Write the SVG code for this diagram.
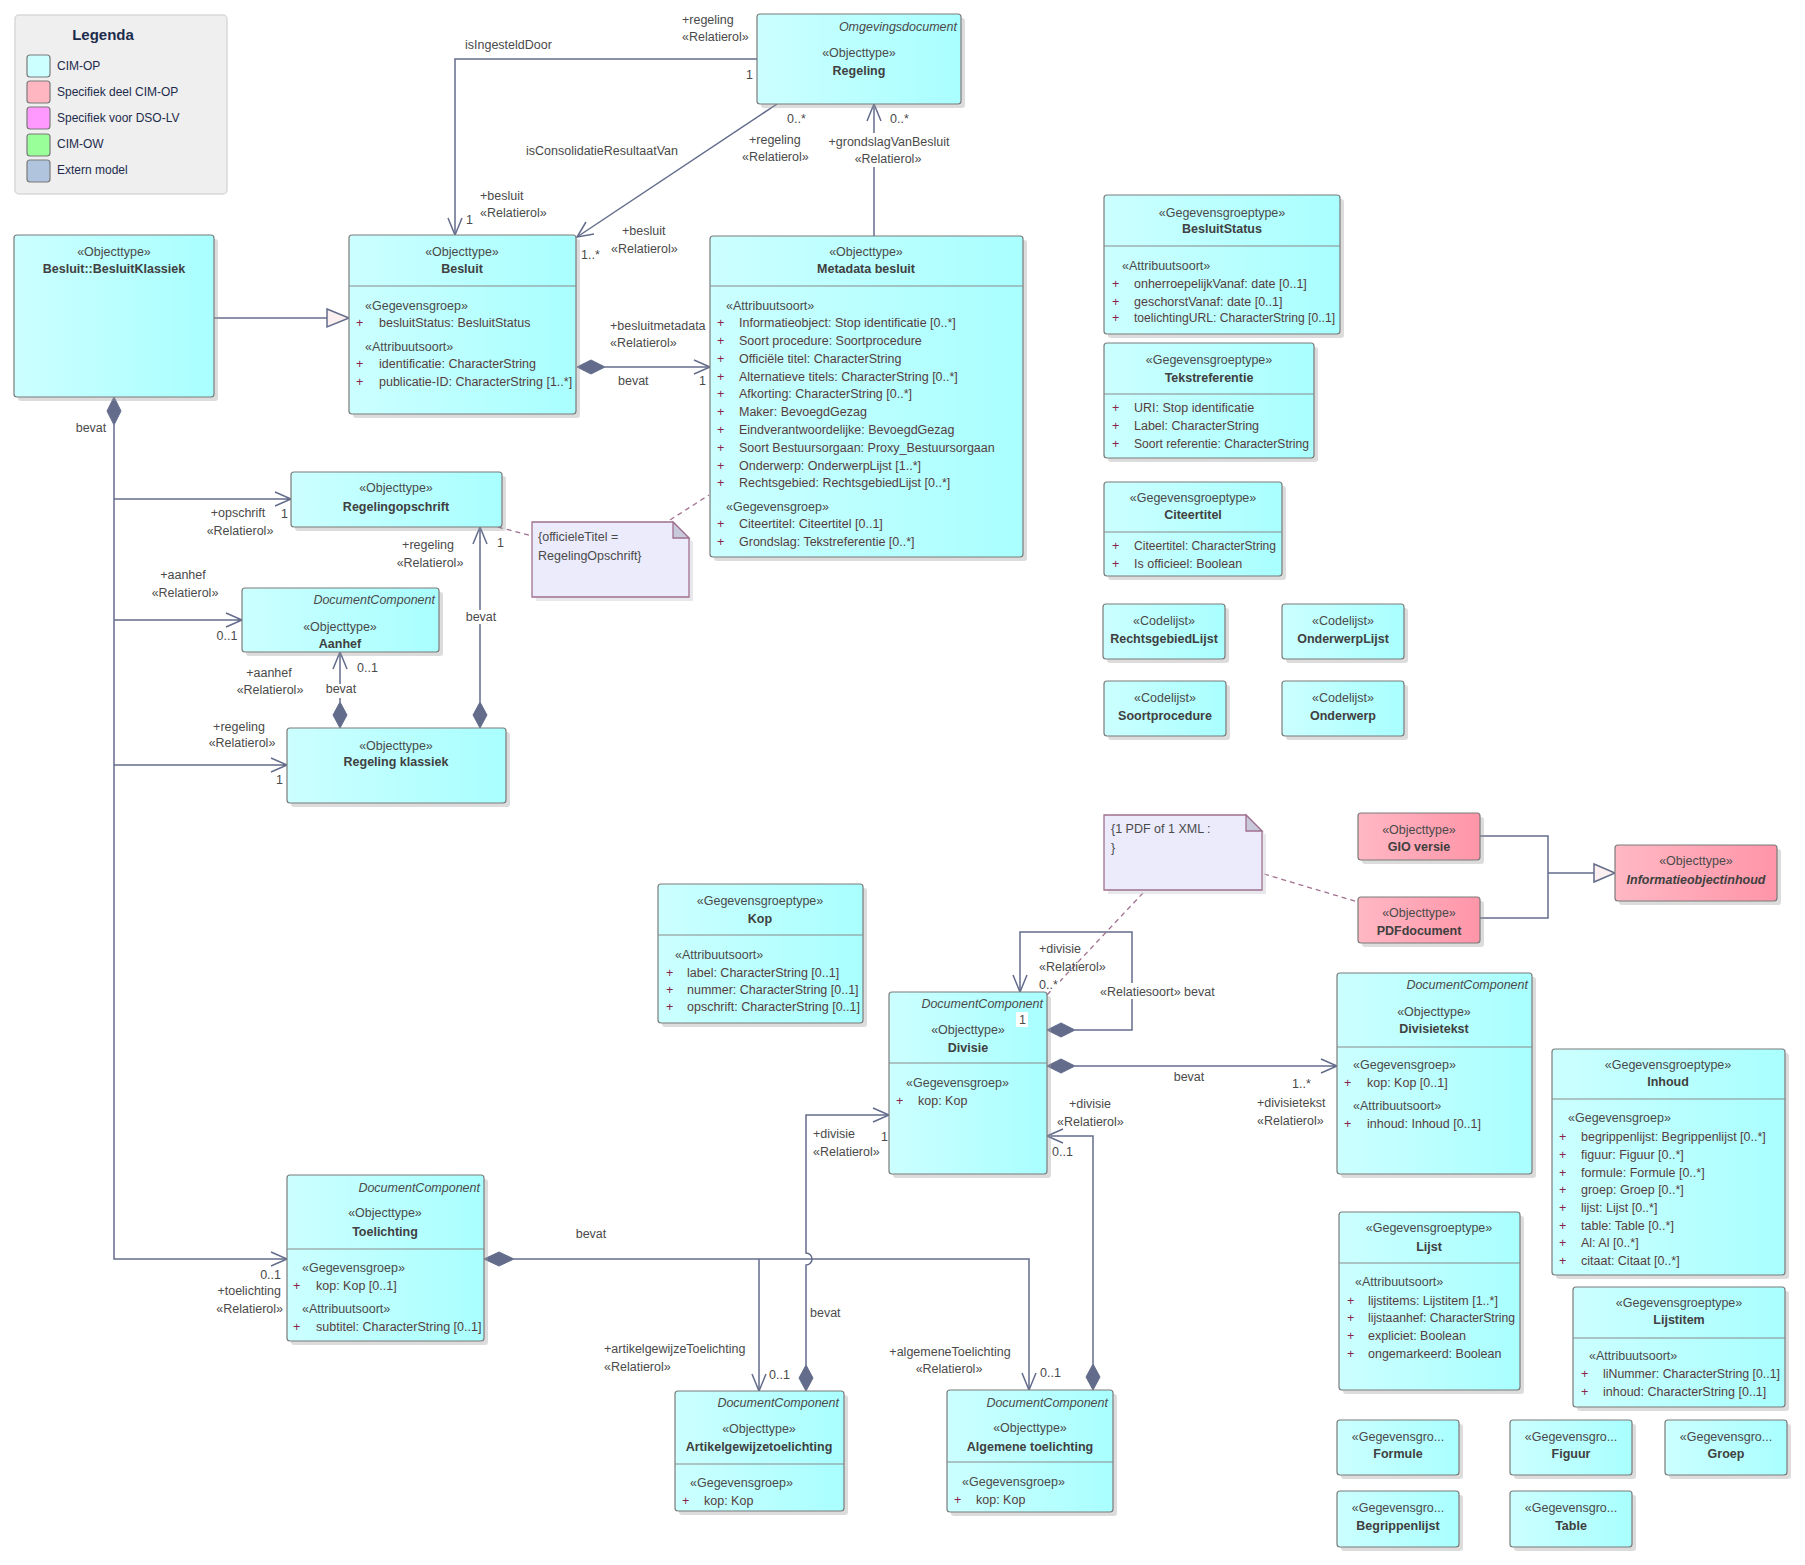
<svg xmlns="http://www.w3.org/2000/svg" width="1805" height="1565" viewBox="0 0 1805 1565">
<defs>
<linearGradient id="cy" x1="0" y1="0" x2="1" y2="0"><stop offset="0" stop-color="#ccffff"/><stop offset="1" stop-color="#a9ffff"/></linearGradient>
<linearGradient id="pk" x1="0" y1="0" x2="1" y2="0"><stop offset="0" stop-color="#ffb8c4"/><stop offset="1" stop-color="#ff95a8"/></linearGradient>
<style>
text{font-family:"Liberation Sans",Arial,sans-serif;font-size:12.5px;fill:#4a4a4a}
.n{fill:url(#cy);stroke:#7b7b7b;stroke-width:1.2}
.pn{fill:url(#pk);stroke:#7b7b7b;stroke-width:1.2}
.sh{fill:#9a9a9a;opacity:0.35}
.sep{stroke:#8a8a8a;stroke-width:1.2}
.m{text-anchor:middle}
.e{text-anchor:end}
.b{font-weight:bold;fill:#404040}
.i{font-style:italic}
.pl{fill:#8b2346}
.at{fill:#553d3d}
.c{stroke:#636c8b;stroke-width:1.5;fill:none}
.d{fill:#636c8b;stroke:#636c8b;stroke-width:1}
.g{fill:#fbefef;stroke:#636c8b;stroke-width:1.5}
.ds{stroke:#a0708e;stroke-width:1.3;stroke-dasharray:5,4;fill:none}
.note{fill:#ebebfc;stroke:#a0708e;stroke-width:1.3}
.fold{fill:#c9c9dc;stroke:#a0708e;stroke-width:1.3}
.wb{fill:#ffffff}
.lg{font-size:12px;fill:#1d2c4c}
.sw{stroke:#7a7a7a;stroke-width:1.2}
</style>
</defs>
<rect width="1805" height="1565" fill="#ffffff"/>

<g id="legenda">
<rect x="15" y="15" width="212" height="179" rx="4" fill="#efefef" stroke="#d9d9d9" stroke-width="1.5"/>
<text x="103" y="40" class="m" style="font-weight:bold;font-size:15px;fill:#1d2c4c">Legenda</text>
<rect x="27" y="55" width="23" height="22" rx="3" fill="#ccffff" class="sw"/>
<rect x="27" y="81" width="23" height="22" rx="3" fill="#ffb6c1" class="sw"/>
<rect x="27" y="107" width="23" height="22" rx="3" fill="#ff99ff" class="sw"/>
<rect x="27" y="134" width="23" height="22" rx="3" fill="#99ff99" class="sw"/>
<rect x="27" y="160" width="23" height="22" rx="3" fill="#b0c4de" class="sw"/>
<text x="57" y="70" class="lg">CIM-OP</text>
<text x="57" y="96" class="lg">Specifiek deel CIM-OP</text>
<text x="57" y="122" class="lg">Specifiek voor DSO-LV</text>
<text x="57" y="148" class="lg">CIM-OW</text>
<text x="57" y="174" class="lg">Extern model</text>
</g>

<g id="connectors">
<path class="c" d="M757,59 H455 V235"/>
<path class="c" d="M448,218 L455,235 L462,218"/>
<path class="c" d="M777,104 L577,237"/>
<path class="c" d="M594,234 L577,237 L586,222"/>
<path class="c" d="M874,236 V104"/>
<path class="c" d="M867,121 L874,104 L881,121"/>
<polygon class="d" points="577,367 591,360 605,367 591,374"/>
<path class="c" d="M605,367 H710"/>
<path class="c" d="M694,360 L710,367 L694,374"/>
<path class="c" d="M214,318 H327"/>
<polygon class="g" points="327,309 349,318 327,327"/>
<polygon class="d" points="114,397 121,411 114,425 107,411"/>
<path class="c" d="M114,425 V1259 H287"/>
<path class="c" d="M114,499 H291 M275,492 L291,499 L275,506"/>
<path class="c" d="M114,620 H242 M226,613 L242,620 L226,627"/>
<path class="c" d="M114,765 H287 M271,758 L287,765 L271,772"/>
<path class="c" d="M271,1252 L287,1259 L271,1266"/>
<polygon class="d" points="340,728 347,715 340,702 333,715"/>
<path class="c" d="M340,702 V652 M333,669 L340,652 L347,669"/>
<polygon class="d" points="480,728 487,715 480,702 473,715"/>
<path class="c" d="M480,702 V527 M473,544 L480,527 L487,544"/>
<polygon class="d" points="1047,1030 1061,1023 1075,1030 1061,1037"/>
<path class="c" d="M1075,1030 H1132 V932 H1020 V992"/>
<path class="c" d="M1013,975 L1020,992 L1027,975"/>
<polygon class="d" points="1047,1066 1061,1059 1075,1066 1061,1073"/>
<path class="c" d="M1075,1066 H1337 M1321,1059 L1337,1066 L1321,1073"/>
<polygon class="d" points="806,1391 813,1378 806,1365 799,1378"/>
<path class="c" d="M806,1365 V1265 A6,6 0 0 0 806,1253 V1115 H889"/>
<path class="c" d="M873,1108 L889,1115 L873,1122"/>
<polygon class="d" points="1093,1390 1100,1377 1093,1364 1086,1377"/>
<path class="c" d="M1093,1364 V1136 H1047"/>
<path class="c" d="M1063,1129 L1047,1136 L1063,1143"/>
<polygon class="d" points="484,1259 499,1252 514,1259 499,1266"/>
<path class="c" d="M514,1259 H1029 V1390 M759,1259 V1391"/>
<path class="c" d="M752,1374 L759,1391 L766,1374"/>
<path class="c" d="M1022,1373 L1029,1390 L1036,1373"/>
<path class="c" d="M1480,836 H1548 V918 H1480 M1548,873 H1594"/>
<polygon class="g" points="1594,864 1615,873 1594,882"/>
<path class="ds" d="M498,527 L532,536"/>
<path class="ds" d="M670,520 L709,495"/>
<path class="ds" d="M1264,874 L1358,902"/>
<path class="ds" d="M1143,893 L1047,995"/>

<text x="465" y="49">isIngesteldDoor</text>
<text x="682" y="24">+regeling</text>
<text x="682" y="41">«Relatierol»</text>
<text x="746" y="79">1</text>
<text x="480" y="200">+besluit</text>
<text x="480" y="217">«Relatierol»</text>
<text x="466" y="224">1</text>
<text x="526" y="155">isConsolidatieResultaatVan</text>
<text x="787" y="123">0..*</text>
<text x="749" y="144">+regeling</text>
<text x="742" y="161">«Relatierol»</text>
<text x="581" y="259">1..*</text>
<text x="622" y="235">+besluit</text>
<text x="611" y="253">«Relatierol»</text>
<text x="890" y="123">0..*</text>
<rect class="wb" x="826" y="133" width="128" height="34"/>
<text x="889" y="146" class="m">+grondslagVanBesluit</text>
<text x="888" y="163" class="m">«Relatierol»</text>
<rect class="wb" x="609" y="318" width="100" height="16"/>
<text x="610" y="330">+besluitmetadata</text>
<text x="610" y="347">«Relatierol»</text>
<text x="618" y="385">bevat</text>
<text x="699" y="385">1</text>

<text x="91" y="432" class="m">bevat</text>
<text x="238" y="517" class="m">+opschrift</text>
<text x="240" y="535" class="m">«Relatierol»</text>
<text x="281" y="518">1</text>
<text x="183" y="579" class="m">+aanhef</text>
<text x="185" y="597" class="m">«Relatierol»</text>
<text x="227" y="640" class="m">0..1</text>
<text x="239" y="731" class="m">+regeling</text>
<text x="242" y="747" class="m">«Relatierol»</text>
<text x="276" y="784">1</text>
<text x="357" y="672">0..1</text>
<text x="269" y="677" class="m">+aanhef</text>
<text x="270" y="694" class="m">«Relatierol»</text>
<rect class="wb" x="326" y="684" width="30" height="14"/>
<text x="341" y="693" class="m">bevat</text>
<text x="497" y="547">1</text>
<text x="428" y="549" class="m">+regeling</text>
<text x="430" y="567" class="m">«Relatierol»</text>
<rect class="wb" x="466" y="610" width="30" height="14"/>
<text x="481" y="621" class="m">bevat</text>

<text x="281" y="1279" class="e">0..1</text>
<text x="281" y="1295" class="e">+toelichting</text>
<text x="283" y="1313" class="e">«Relatierol»</text>
<text x="591" y="1238" class="m">bevat</text>
<text x="604" y="1353">+artikelgewijzeToelichting</text>
<text x="604" y="1371">«Relatierol»</text>
<text x="769" y="1379">0..1</text>
<text x="810" y="1317">bevat</text>
<text x="950" y="1356" class="m">+algemeneToelichting</text>
<text x="949" y="1373" class="m">«Relatierol»</text>
<text x="1040" y="1377">0..1</text>

<text x="813" y="1138">+divisie</text>
<text x="813" y="1156">«Relatierol»</text>
<text x="881" y="1141">1</text>
<text x="1069" y="1108">+divisie</text>
<text x="1057" y="1126">«Relatierol»</text>
<text x="1052" y="1156">0..1</text>
<rect class="wb" x="1038" y="940" width="46" height="12"/>
<text x="1039" y="953">+divisie</text>
<text x="1039" y="971">«Relatierol»</text>
<rect class="wb" x="1038" y="977" width="22" height="13"/>
<text x="1039" y="989">0..*</text>
<rect class="wb" x="1099" y="983" width="120" height="16"/>
<text x="1100" y="996">«Relatiesoort» bevat</text>
<text x="1189" y="1081" class="m">bevat</text>
<text x="1292" y="1088">1..*</text>
<text x="1257" y="1107">+divisietekst</text>
<text x="1257" y="1125">«Relatierol»</text>
</g>

<g id="besluitklassiek">
<rect class="sh" x="18" y="239" width="200" height="162" rx="3"/>
<rect class="n" x="14" y="235" width="200" height="162" rx="3"/>
<text x="114" y="256" class="m">«Objecttype»</text>
<text x="114" y="273" class="m b">Besluit::BesluitKlassiek</text>
</g>

<g id="besluit">
<rect class="sh" x="353" y="239" width="227" height="179" rx="3"/>
<rect class="n" x="349" y="235" width="227" height="179" rx="3"/>
<line class="sep" x1="349" y1="286" x2="576" y2="286"/>
<text x="462" y="256" class="m">«Objecttype»</text>
<text x="462" y="273" class="m b">Besluit</text>
<text x="365" y="310">«Gegevensgroep»</text>
<text x="356" y="327" class="pl">+</text><text x="379" y="327" class="at">besluitStatus: BesluitStatus</text>
<text x="365" y="351">«Attribuutsoort»</text>
<text x="356" y="368" class="pl">+</text><text x="379" y="368" class="at">identificatie: CharacterString</text>
<text x="356" y="386" class="pl">+</text><text x="379" y="386" class="at">publicatie-ID: CharacterString [1..*]</text>
</g>

<g id="regeling">
<rect class="sh" x="761" y="18" width="204" height="90" rx="3"/>
<rect class="n" x="757" y="14" width="204" height="90" rx="3"/>
<text x="957" y="31" class="e i">Omgevingsdocument</text>
<text x="859" y="57" class="m">«Objecttype»</text>
<text x="859" y="75" class="m b">Regeling</text>
</g>

<g id="metadata-besluit">
<rect class="sh" x="714" y="240" width="313" height="321" rx="3"/>
<rect class="n" x="710" y="236" width="313" height="321" rx="3"/>
<line class="sep" x1="710" y1="286" x2="1023" y2="286"/>
<text x="866" y="256" class="m">«Objecttype»</text>
<text x="866" y="273" class="m b">Metadata besluit</text>
<text x="726" y="310">«Attribuutsoort»</text>
<text x="717" y="327" class="pl">+</text><text x="739" y="327" class="at">Informatieobject: Stop identificatie [0..*]</text>
<text x="717" y="345" class="pl">+</text><text x="739" y="345" class="at">Soort procedure: Soortprocedure</text>
<text x="717" y="363" class="pl">+</text><text x="739" y="363" class="at">Officiële titel: CharacterString</text>
<text x="717" y="381" class="pl">+</text><text x="739" y="381" class="at">Alternatieve titels: CharacterString [0..*]</text>
<text x="717" y="398" class="pl">+</text><text x="739" y="398" class="at">Afkorting: CharacterString [0..*]</text>
<text x="717" y="416" class="pl">+</text><text x="739" y="416" class="at">Maker: BevoegdGezag</text>
<text x="717" y="434" class="pl">+</text><text x="739" y="434" class="at">Eindverantwoordelijke: BevoegdGezag</text>
<text x="717" y="452" class="pl">+</text><text x="739" y="452" class="at">Soort Bestuursorgaan: Proxy_Bestuursorgaan</text>
<text x="717" y="470" class="pl">+</text><text x="739" y="470" class="at">Onderwerp: OnderwerpLijst [1..*]</text>
<text x="717" y="487" class="pl">+</text><text x="739" y="487" class="at">Rechtsgebied: RechtsgebiedLijst [0..*]</text>
<text x="726" y="511">«Gegevensgroep»</text>
<text x="717" y="528" class="pl">+</text><text x="739" y="528" class="at">Citeertitel: Citeertitel [0..1]</text>
<text x="717" y="546" class="pl">+</text><text x="739" y="546" class="at">Grondslag: Tekstreferentie [0..*]</text>
</g>

<g id="besluitstatus">
<rect class="sh" x="1108" y="199" width="236" height="139" rx="3"/>
<rect class="n" x="1104" y="195" width="236" height="139" rx="3"/>
<line class="sep" x1="1104" y1="246" x2="1340" y2="246"/>
<text x="1222" y="217" class="m">«Gegevensgroeptype»</text>
<text x="1222" y="233" class="m b">BesluitStatus</text>
<text x="1122" y="270">«Attribuutsoort»</text>
<text x="1112" y="288" class="pl">+</text><text x="1134" y="288" class="at">onherroepelijkVanaf: date [0..1]</text>
<text x="1112" y="306" class="pl">+</text><text x="1134" y="306" class="at">geschorstVanaf: date [0..1]</text>
<text x="1112" y="322" class="pl">+</text><text x="1134" y="322" class="at" textLength="201" lengthAdjust="spacingAndGlyphs">toelichtingURL: CharacterString [0..1]</text>
</g>

<g id="tekstreferentie">
<rect class="sh" x="1108" y="347" width="210" height="115" rx="3"/>
<rect class="n" x="1104" y="343" width="210" height="115" rx="3"/>
<line class="sep" x1="1104" y1="394" x2="1314" y2="394"/>
<text x="1209" y="364" class="m">«Gegevensgroeptype»</text>
<text x="1209" y="382" class="m b">Tekstreferentie</text>
<text x="1112" y="412" class="pl">+</text><text x="1134" y="412" class="at">URI: Stop identificatie</text>
<text x="1112" y="430" class="pl">+</text><text x="1134" y="430" class="at">Label: CharacterString</text>
<text x="1112" y="448" class="pl">+</text><text x="1134" y="448" class="at" textLength="175" lengthAdjust="spacingAndGlyphs">Soort referentie: CharacterString</text>
</g>

<g id="citeertitel">
<rect class="sh" x="1108" y="486" width="178" height="94" rx="3"/>
<rect class="n" x="1104" y="482" width="178" height="94" rx="3"/>
<line class="sep" x1="1104" y1="532" x2="1282" y2="532"/>
<text x="1193" y="502" class="m">«Gegevensgroeptype»</text>
<text x="1193" y="519" class="m b">Citeertitel</text>
<text x="1112" y="550" class="pl">+</text><text x="1134" y="550" class="at" textLength="142" lengthAdjust="spacingAndGlyphs">Citeertitel: CharacterString</text>
<text x="1112" y="568" class="pl">+</text><text x="1134" y="568" class="at">Is officieel: Boolean</text>
</g>

<g id="rechtsgebiedlijst">
<rect class="sh" x="1107" y="608" width="122" height="55" rx="3"/>
<rect class="n" x="1103" y="604" width="122" height="55" rx="3"/>
<text x="1164" y="625" class="m">«Codelijst»</text>
<text x="1164" y="643" class="m b">RechtsgebiedLijst</text>
</g>
<g id="onderwerplijst">
<rect class="sh" x="1286" y="608" width="122" height="55" rx="3"/>
<rect class="n" x="1282" y="604" width="122" height="55" rx="3"/>
<text x="1343" y="625" class="m">«Codelijst»</text>
<text x="1343" y="643" class="m b">OnderwerpLijst</text>
</g>
<g id="soortprocedure">
<rect class="sh" x="1108" y="685" width="122" height="55" rx="3"/>
<rect class="n" x="1104" y="681" width="122" height="55" rx="3"/>
<text x="1165" y="702" class="m">«Codelijst»</text>
<text x="1165" y="720" class="m b">Soortprocedure</text>
</g>
<g id="onderwerp">
<rect class="sh" x="1286" y="685" width="122" height="55" rx="3"/>
<rect class="n" x="1282" y="681" width="122" height="55" rx="3"/>
<text x="1343" y="702" class="m">«Codelijst»</text>
<text x="1343" y="720" class="m b">Onderwerp</text>
</g>

<g id="note-pdf-xml">
<path d="M1108,819 H1250 L1266,835 V894 H1108 Z" fill="#d8d8e0" opacity="0.6"/>
<path class="note" d="M1104,815 H1246 L1262,831 V890 H1104 Z"/>
<path class="fold" d="M1246,815 V831 H1262 Z"/>
<text x="1111" y="833">{1 PDF of 1 XML :</text>
<text x="1111" y="852">}</text>
</g>

<g id="gio-versie">
<rect class="sh" x="1362" y="817" width="122" height="47" rx="3"/>
<rect class="pn" x="1358" y="813" width="122" height="47" rx="3"/>
<text x="1419" y="834" class="m">«Objecttype»</text>
<text x="1419" y="851" class="m b">GIO versie</text>
</g>
<g id="pdfdocument">
<rect class="sh" x="1362" y="901" width="122" height="46" rx="3"/>
<rect class="pn" x="1358" y="897" width="122" height="46" rx="3"/>
<text x="1419" y="917" class="m">«Objecttype»</text>
<text x="1419" y="935" class="m b">PDFdocument</text>
</g>
<g id="informatieobjectinhoud">
<rect class="sh" x="1619" y="849" width="162" height="56" rx="3"/>
<rect class="pn" x="1615" y="845" width="162" height="56" rx="3"/>
<text x="1696" y="865" class="m">«Objecttype»</text>
<text x="1696" y="884" class="m b i">Informatieobjectinhoud</text>
</g>

<g id="kop">
<rect class="sh" x="662" y="888" width="205" height="139" rx="3"/>
<rect class="n" x="658" y="884" width="205" height="139" rx="3"/>
<line class="sep" x1="658" y1="935" x2="863" y2="935"/>
<text x="760" y="905" class="m">«Gegevensgroeptype»</text>
<text x="760" y="923" class="m b">Kop</text>
<text x="675" y="959">«Attribuutsoort»</text>
<text x="666" y="977" class="pl">+</text><text x="687" y="977" class="at">label: CharacterString [0..1]</text>
<text x="666" y="994" class="pl">+</text><text x="687" y="994" class="at">nummer: CharacterString [0..1]</text>
<text x="666" y="1011" class="pl">+</text><text x="687" y="1011" class="at">opschrift: CharacterString [0..1]</text>
</g>

<g id="divisie">
<rect class="sh" x="893" y="996" width="158" height="182" rx="3"/>
<rect class="n" x="889" y="992" width="158" height="182" rx="3"/>
<line class="sep" x1="889" y1="1063" x2="1047" y2="1063"/>
<text x="1043" y="1008" class="e i">DocumentComponent</text>
<rect class="wb" x="1016" y="1012" width="12" height="15"/>
<text x="1019" y="1024">1</text>
<text x="968" y="1034" class="m">«Objecttype»</text>
<text x="968" y="1052" class="m b">Divisie</text>
<text x="906" y="1087">«Gegevensgroep»</text>
<text x="896" y="1105" class="pl">+</text><text x="918" y="1105" class="at">kop: Kop</text>
</g>

<g id="divisietekst">
<rect class="sh" x="1341" y="977" width="195" height="201" rx="3"/>
<rect class="n" x="1337" y="973" width="195" height="201" rx="3"/>
<line class="sep" x1="1337" y1="1047" x2="1532" y2="1047"/>
<text x="1528" y="989" class="e i">DocumentComponent</text>
<text x="1434" y="1016" class="m">«Objecttype»</text>
<text x="1434" y="1033" class="m b">Divisietekst</text>
<text x="1353" y="1069">«Gegevensgroep»</text>
<text x="1344" y="1087" class="pl">+</text><text x="1367" y="1087" class="at">kop: Kop [0..1]</text>
<text x="1353" y="1110">«Attribuutsoort»</text>
<text x="1344" y="1128" class="pl">+</text><text x="1367" y="1128" class="at">inhoud: Inhoud [0..1]</text>
</g>

<g id="inhoud">
<rect class="sh" x="1556" y="1053" width="233" height="226" rx="3"/>
<rect class="n" x="1552" y="1049" width="233" height="226" rx="3"/>
<line class="sep" x1="1552" y1="1099" x2="1785" y2="1099"/>
<text x="1668" y="1069" class="m">«Gegevensgroeptype»</text>
<text x="1668" y="1086" class="m b">Inhoud</text>
<text x="1568" y="1122">«Gegevensgroep»</text>
<text x="1559" y="1141" class="pl">+</text><text x="1581" y="1141" class="at">begrippenlijst: Begrippenlijst [0..*]</text>
<text x="1559" y="1159" class="pl">+</text><text x="1581" y="1159" class="at">figuur: Figuur [0..*]</text>
<text x="1559" y="1177" class="pl">+</text><text x="1581" y="1177" class="at">formule: Formule [0..*]</text>
<text x="1559" y="1194" class="pl">+</text><text x="1581" y="1194" class="at">groep: Groep [0..*]</text>
<text x="1559" y="1212" class="pl">+</text><text x="1581" y="1212" class="at">lijst: Lijst [0..*]</text>
<text x="1559" y="1230" class="pl">+</text><text x="1581" y="1230" class="at">table: Table [0..*]</text>
<text x="1559" y="1247" class="pl">+</text><text x="1581" y="1247" class="at">Al: Al [0..*]</text>
<text x="1559" y="1265" class="pl">+</text><text x="1581" y="1265" class="at">citaat: Citaat [0..*]</text>
</g>

<g id="lijst">
<rect class="sh" x="1343" y="1216" width="181" height="178" rx="3"/>
<rect class="n" x="1339" y="1212" width="181" height="178" rx="3"/>
<line class="sep" x1="1339" y1="1263" x2="1520" y2="1263"/>
<text x="1429" y="1232" class="m">«Gegevensgroeptype»</text>
<text x="1429" y="1251" class="m b">Lijst</text>
<text x="1355" y="1286">«Attribuutsoort»</text>
<text x="1347" y="1305" class="pl">+</text><text x="1368" y="1305" class="at">lijstitems: Lijstitem [1..*]</text>
<text x="1347" y="1322" class="pl">+</text><text x="1368" y="1322" class="at" textLength="147" lengthAdjust="spacingAndGlyphs">lijstaanhef: CharacterString</text>
<text x="1347" y="1340" class="pl">+</text><text x="1368" y="1340" class="at">expliciet: Boolean</text>
<text x="1347" y="1358" class="pl">+</text><text x="1368" y="1358" class="at">ongemarkeerd: Boolean</text>
</g>

<g id="lijstitem">
<rect class="sh" x="1577" y="1291" width="212" height="120" rx="3"/>
<rect class="n" x="1573" y="1287" width="212" height="120" rx="3"/>
<line class="sep" x1="1573" y1="1338" x2="1785" y2="1338"/>
<text x="1679" y="1307" class="m">«Gegevensgroeptype»</text>
<text x="1679" y="1324" class="m b">Lijstitem</text>
<text x="1589" y="1360">«Attribuutsoort»</text>
<text x="1581" y="1378" class="pl">+</text><text x="1603" y="1378" class="at" textLength="177" lengthAdjust="spacingAndGlyphs">liNummer: CharacterString [0..1]</text>
<text x="1581" y="1396" class="pl">+</text><text x="1603" y="1396" class="at">inhoud: CharacterString [0..1]</text>
</g>

<g id="formule">
<rect class="sh" x="1341" y="1424" width="122" height="55" rx="3"/>
<rect class="n" x="1337" y="1420" width="122" height="55" rx="3"/>
<text x="1398" y="1441" class="m">«Gegevensgro...</text>
<text x="1398" y="1458" class="m b">Formule</text>
</g>
<g id="figuur">
<rect class="sh" x="1514" y="1424" width="122" height="55" rx="3"/>
<rect class="n" x="1510" y="1420" width="122" height="55" rx="3"/>
<text x="1571" y="1441" class="m">«Gegevensgro...</text>
<text x="1571" y="1458" class="m b">Figuur</text>
</g>
<g id="groep">
<rect class="sh" x="1669" y="1424" width="122" height="55" rx="3"/>
<rect class="n" x="1665" y="1420" width="122" height="55" rx="3"/>
<text x="1726" y="1441" class="m">«Gegevensgro...</text>
<text x="1726" y="1458" class="m b">Groep</text>
</g>
<g id="begrippenlijst">
<rect class="sh" x="1341" y="1495" width="122" height="56" rx="3"/>
<rect class="n" x="1337" y="1491" width="122" height="56" rx="3"/>
<text x="1398" y="1512" class="m">«Gegevensgro...</text>
<text x="1398" y="1530" class="m b">Begrippenlijst</text>
</g>
<g id="table">
<rect class="sh" x="1514" y="1495" width="122" height="56" rx="3"/>
<rect class="n" x="1510" y="1491" width="122" height="56" rx="3"/>
<text x="1571" y="1512" class="m">«Gegevensgro...</text>
<text x="1571" y="1530" class="m b">Table</text>
</g>

<g id="toelichting">
<rect class="sh" x="291" y="1179" width="197" height="166" rx="3"/>
<rect class="n" x="287" y="1175" width="197" height="166" rx="3"/>
<line class="sep" x1="287" y1="1249" x2="484" y2="1249"/>
<text x="480" y="1192" class="e i">DocumentComponent</text>
<text x="385" y="1217" class="m">«Objecttype»</text>
<text x="385" y="1236" class="m b">Toelichting</text>
<text x="302" y="1272">«Gegevensgroep»</text>
<text x="293" y="1290" class="pl">+</text><text x="316" y="1290" class="at">kop: Kop [0..1]</text>
<text x="302" y="1313">«Attribuutsoort»</text>
<text x="293" y="1331" class="pl">+</text><text x="316" y="1331" class="at">subtitel: CharacterString [0..1]</text>
</g>

<g id="artikelgewijzetoelichting">
<rect class="sh" x="679" y="1395" width="169" height="120" rx="3"/>
<rect class="n" x="675" y="1391" width="169" height="120" rx="3"/>
<line class="sep" x1="675" y1="1464" x2="844" y2="1464"/>
<text x="839" y="1407" class="e i">DocumentComponent</text>
<text x="759" y="1433" class="m">«Objecttype»</text>
<text x="759" y="1451" class="m b">Artikelgewijzetoelichting</text>
<text x="690" y="1487">«Gegevensgroep»</text>
<text x="682" y="1505" class="pl">+</text><text x="704" y="1505" class="at">kop: Kop</text>
</g>

<g id="algemene-toelichting">
<rect class="sh" x="951" y="1394" width="166" height="122" rx="3"/>
<rect class="n" x="947" y="1390" width="166" height="122" rx="3"/>
<line class="sep" x1="947" y1="1462" x2="1113" y2="1462"/>
<text x="1108" y="1407" class="e i">DocumentComponent</text>
<text x="1030" y="1432" class="m">«Objecttype»</text>
<text x="1030" y="1451" class="m b">Algemene toelichting</text>
<text x="962" y="1486">«Gegevensgroep»</text>
<text x="954" y="1504" class="pl">+</text><text x="976" y="1504" class="at">kop: Kop</text>
</g>

<g id="regelingopschrift">
<rect class="sh" x="295" y="476" width="211" height="55" rx="3"/>
<rect class="n" x="291" y="472" width="211" height="55" rx="3"/>
<text x="396" y="492" class="m">«Objecttype»</text>
<text x="396" y="511" class="m b">Regelingopschrift</text>
</g>

<g id="aanhef">
<rect class="sh" x="246" y="592" width="197" height="64" rx="3"/>
<rect class="n" x="242" y="588" width="197" height="64" rx="3"/>
<text x="435" y="604" class="e i">DocumentComponent</text>
<text x="340" y="631" class="m">«Objecttype»</text>
<text x="340" y="648" class="m b">Aanhef</text>
</g>

<g id="regeling-klassiek">
<rect class="sh" x="291" y="732" width="219" height="75" rx="3"/>
<rect class="n" x="287" y="728" width="219" height="75" rx="3"/>
<text x="396" y="750" class="m">«Objecttype»</text>
<text x="396" y="766" class="m b">Regeling klassiek</text>
</g>

<g id="note-officieletitel">
<path d="M536,526 H677 L693,542 V601 H536 Z" fill="#d8d8e0" opacity="0.6"/>
<path class="note" d="M532,522 H673 L689,538 V597 H532 Z"/>
<path class="fold" d="M673,522 V538 H689 Z"/>
<text x="538" y="541">{officieleTitel =</text>
<text x="538" y="560">RegelingOpschrift}</text>
</g>
</svg>
